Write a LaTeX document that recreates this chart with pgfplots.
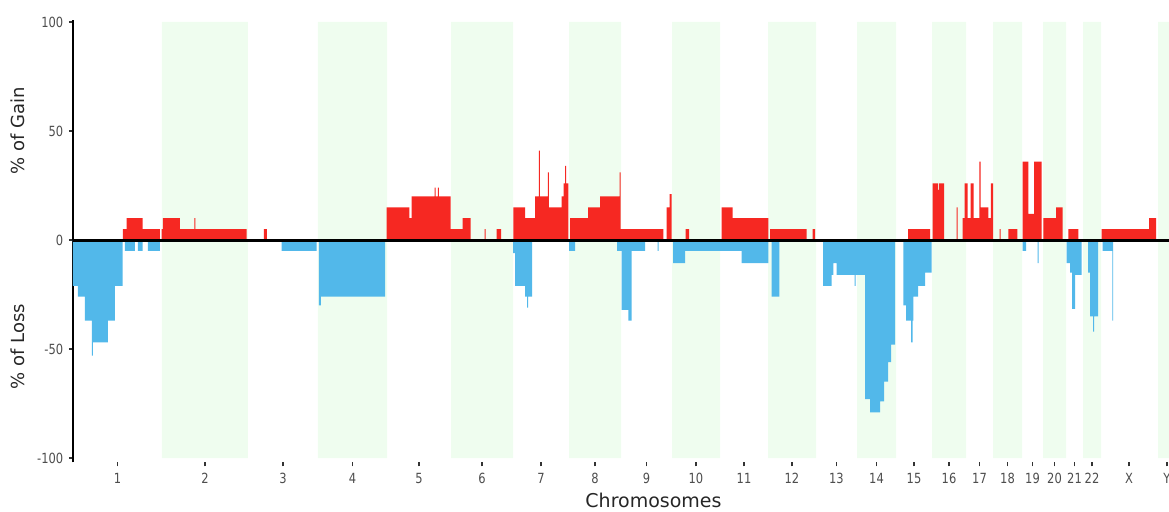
\documentclass[border=0pt]{standalone}
\usepackage{pgfplots}
\pgfplotsset{compat=1.18}
\usepackage{fontspec}
\setmainfont{DejaVu Sans}
\definecolor{gainred}{RGB}{246,40,34}
\definecolor{lossblue}{RGB}{82,184,234}
\definecolor{bandgreen}{RGB}{239,253,239}
\definecolor{ticktxt}{RGB}{77,77,77}

\pgfplotstableread{
x y
123 5
126.7 10
142.7 5
160 0
161.7 5
163 10
180 5
194.5 10
195.5 5
246.7 0
264 5
267 0
386.7 15
409.3 10
411.7 20
434.5 24
435.5 20
437.8 24
438.8 20
450.5 5
462.7 10
470.7 0
484.5 5
485.5 0
496.7 5
501 0
513.3 15
525 10
535 20
538.8 41
539.8 20
547.8 31
548.8 15
561.7 20
563.5 26
565 34
566 26
568.3 0
570 10
588 15
600 20
619.5 31
620.5 5
663.3 0
666.7 15
669.5 21
671.7 0
685.5 5
689 0
721.7 15
732.7 10
768.3 0
770 5
806.7 0
812.7 5
815 0
908 5
930 0
932.7 26
937.8 23
938.8 26
944 0
956.5 15
957.5 0
962.7 10
964.5 26
967.5 10
970.5 26
973.5 10
979.3 36
980.5 15
988.3 10
990.8 26
993 0
999.5 5
1000.5 0
1008.3 5
1017.3 0
1022.7 36
1028.3 12
1034 36
1041.7 0
1043.3 10
1056 15
1062.7 0
1068.3 5
1078.3 0
1101.7 5
1149 10
1156 0
}\gaintable

\pgfplotstableread{
x y
73 -21
78 -26
85 -37
92 -53
93 -47
108 -37
115 -21
122.7 0
125 -5
135 0
138 -5
142.7 0
148 -5
160 0
281.7 -5
316.7 0
319 -30
321 -26
385 0
513 -6
515 -21
525 -26
527 -31
528 -26
532 0
569 -5
575 0
617 -5
621.7 -32
628.3 -37
631.7 -5
645 0
657.5 -5
658.5 0
673 -10.6
685 -5
741.7 -10.6
768.3 0
771.7 -26
779.3 0
823 -21
831.7 -16
833.3 -10.6
836.7 -16
854.5 -21
855.5 -16
865 -73
870 -79
880 -74
884 -65
888 -56
891 -48
895 0
903.3 -30
906 -37
911 -47
912.5 -37
913.3 -26
918 -21
925 -15
931.7 0
1022.5 -5
1026 0
1037.5 -10.6
1038.5 0
1066.5 -10.6
1070 -15
1072 -31.6
1075 -16
1081.7 0
1088 -15
1090 -35
1093 -42
1094 -35
1098 0
1102.7 -5
1112.3 -37
1113 0
}\losstable

\begin{document}
\begin{tikzpicture}
\begin{axis}[
  scale only axis, width=551.5pt, height=221.3pt,
  xmin=73, xmax=1176, ymin=-102, ymax=101,
  axis x line*=bottom, axis y line*=left,
  x axis line style={draw=none},
  y axis line style={line width=1pt, black},
  xtick={117.5,205,283,352.5,419,482,541,595,646.5,696,744,792,836.5,876.5,914,949,979.5,1007.5,1032.5,1054.5,1074.5,1092,1129,1167},
  xticklabels={1,2,3,4,5,6,7,8,9,10,11,12,13,14,15,16,17,18,19,20,21,22,X,Y},
  ytick={-100,-50,0,50,100},
  yticklabels={-100,-50,0,50,100},
  tick align=outside, major tick length=2pt,
  tick style={line width=0.7pt, black!80},
  ticklabel style={font=\fontsize{7}{8}\selectfont, text=ticktxt, xscale=0.82},
  xlabel={Chromosomes},
  xlabel style={font=\fontsize{9.5}{11}\selectfont, text=black!85, at={(axis description cs:0.5263,0)}, anchor=center, yshift=-18.8pt},
  clip=true,
]
\addplot[const plot mark left, fill=bandgreen, draw=none] coordinates {(162,100)(248,0)(318,100)(387,0)(451,100)(513,0)(569,100)(621,0)(672,100)(720,0)(768,100)(816,0)(857,100)(896,0)(932,100)(966,0)(993,100)(1022,0)(1043,100)(1066,0)(1083,100)(1101,0)(1158,100)(1178,0)} \closedcycle;
\addplot[const plot mark left, fill=bandgreen, draw=none] coordinates {(162,-100)(248,0)(318,-100)(387,0)(451,-100)(513,0)(569,-100)(621,0)(672,-100)(720,0)(768,-100)(816,0)(857,-100)(896,0)(932,-100)(966,0)(993,-100)(1022,0)(1043,-100)(1066,0)(1083,-100)(1101,0)(1158,-100)(1178,0)} \closedcycle;
\addplot[const plot mark left, fill=gainred, draw=none] table[x=x,y=y] {\gaintable} \closedcycle;
\addplot[const plot mark left, fill=lossblue, draw=none] table[x=x,y=y] {\losstable} \closedcycle;
\addplot[black, line width=1.5pt] coordinates {(73,0)(1176,0)};
\coordinate (gainlbl) at (axis cs:73,50);
\coordinate (losslbl) at (axis cs:73,-49);
\end{axis}
\node[rotate=90, anchor=center, text=black!85, font=\fontsize{9}{10}\selectfont] at ([xshift=-27.5pt]gainlbl) {\% of Gain};
\node[rotate=90, anchor=center, text=black!85, font=\fontsize{9}{10}\selectfont] at ([xshift=-27.5pt]losslbl) {\% of Loss};
\pgfresetboundingbox
\useasboundingbox (-36.5pt,-24.3pt) rectangle (548pt,231.2pt);
\end{tikzpicture}
\end{document}
